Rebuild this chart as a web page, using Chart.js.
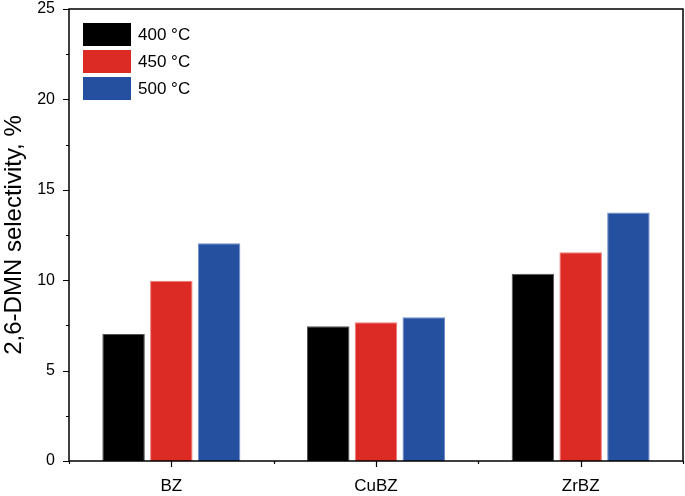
<!DOCTYPE html>
<html>
<head>
<meta charset="utf-8">
<script src="https://cdn.jsdelivr.net/npm/chart.js@4"></script>
<style>
  html, body { margin: 0; padding: 0; background: #fff; }
  #wrap { width: 685px; height: 496px; }
</style>
</head>
<body>
<div id="wrap"><canvas id="chart" width="685" height="496"></canvas></div>
<script>
const categories = ['BZ', 'CuBZ', 'ZrBZ'];
const seriesLabels = ['400 °C', '450 °C', '500 °C'];
const sel400 = [7.03, 7.45, 10.36];
const sel450 = [9.97, 7.67, 11.55];
const sel500 = [12.04, 7.95, 13.74];
const yTicks = [0, 5, 10, 15, 20, 25];

const colors = ['#000000', '#dc2b24', '#24509f'];
const edges = ['#555555', '#f07a74', '#6f8fd0'];

const FONT = 'Liberation Sans, Arial, sans-serif';

// frame, tick marks and legend drawn by hand
const decor = {
  id: 'decor',
  afterDraw(chart) {
    const { ctx, chartArea: a, scales } = chart;
    const x = scales.x, y = scales.y;
    ctx.save();
    ctx.strokeStyle = '#000';
    ctx.lineWidth = 1.5;
    ctx.strokeRect(a.left, a.top, a.right - a.left, a.bottom - a.top);

    ctx.lineWidth = 1.2;
    ctx.beginPath();
    for (let v = 0; v <= 25; v += 2.5) {
      const py = Math.round(y.getPixelForValue(v)) + 0.5;
      const len = v % 5 === 0 ? 6 : 3;
      ctx.moveTo(a.left, py);
      ctx.lineTo(a.left - len, py);
    }
    const n = categories.length;
    const step = (a.right - a.left) / n;
    for (let i = 0; i <= n; i++) {
      const px = Math.round(a.left + i * step) + 0.5;
      ctx.moveTo(px, a.bottom);
      ctx.lineTo(px, a.bottom + 3);
    }
    for (let i = 0; i < n; i++) {
      const px = Math.round(x.getPixelForValue(i)) + 0.5;
      ctx.moveTo(px, a.bottom);
      ctx.lineTo(px, a.bottom + 6);
    }
    ctx.stroke();

    // legend
    ctx.font = '17px ' + FONT;
    ctx.textBaseline = 'middle';
    chart.data.datasets.forEach((ds, i) => {
      const top = 23 + i * 27;
      ctx.fillStyle = ds.backgroundColor;
      ctx.fillRect(83, top, 48, 23);
      ctx.fillStyle = '#000';
      ctx.fillText(ds.label, 138, top + 12);
    });
    ctx.restore();
  }
};

new Chart(document.getElementById('chart'), {
  type: 'bar',
  data: {
    labels: categories,
    datasets: [sel400, sel450, sel500].map((data, i) => ({
      label: seriesLabels[i],
      data,
      backgroundColor: colors[i],
      borderColor: edges[i],
      borderWidth: 1,
      barPercentage: 0.89,
      categoryPercentage: 0.70
    }))
  },
  options: {
    responsive: false,
    animation: false,
    layout: { padding: { top: 9, right: 2, left: 0, bottom: 0 } },
    plugins: {
      legend: { display: false },
      tooltip: { enabled: false }
    },
    scales: {
      x: {
        grid: { display: false },
        border: { display: false },
        ticks: { color: '#000', font: { family: FONT, size: 17 }, padding: 7 },
        afterFit: s => { s.height = 35; s.paddingLeft = 0; s.paddingRight = 0; }
      },
      y: {
        min: 0,
        max: 25,
        afterBuildTicks: s => { s.ticks = yTicks.map(v => ({ value: v })); },
        grid: { display: false },
        border: { display: false },
        ticks: { color: '#000', font: { family: FONT, size: 16 }, padding: 6 },
        title: {
          display: true,
          text: '2,6-DMN selectivity, %',
          color: '#000',
          font: { family: FONT, size: 24 },
          padding: { top: 0, bottom: 2 }
        },
        afterFit: s => { s.width = 69; s.paddingTop = 0; s.paddingBottom = 0; }
      }
    }
  },
  plugins: [decor]
});
</script>
</body>
</html>
